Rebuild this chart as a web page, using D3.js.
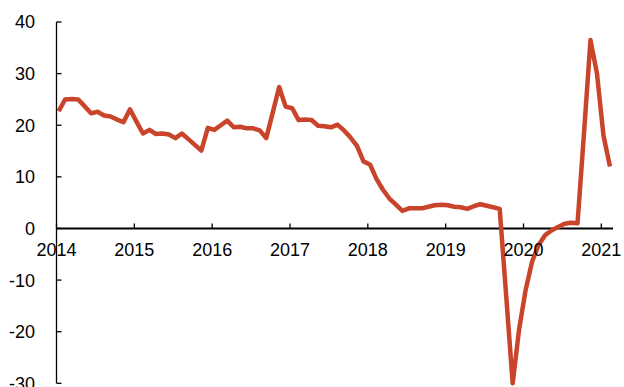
<!DOCTYPE html>
<html>
<head>
<meta charset="utf-8">
<script src="https://cdn.jsdelivr.net/npm/d3@7"></script>
<style>
  html, body { margin: 0; padding: 0; background: #fff; }
  svg { display: block; }
  text { font-family: "Liberation Sans", Arial, sans-serif; fill: #000; }
</style>
</head>
<body>
<svg id="chart" width="624" height="387"></svg>
<script>
// Monthly series, starting January 2014 (index 0) through February 2021
const startYear = 2014;
const values = [
  22.7, 25.0, 25.1, 25.0, 23.7, 22.3, 22.6, 21.9, 21.7, 21.1, 20.6, 23.1,
  20.7, 18.4, 19.1, 18.3, 18.4, 18.2, 17.5, 18.4, 17.3, 16.2, 15.1, 19.5,
  19.1, 20.0, 20.9, 19.6, 19.7, 19.4, 19.4, 19.0, 17.5, 22.4, 27.4, 23.6,
  23.3, 21.0, 21.1, 21.0, 19.9, 19.8, 19.6, 20.1, 19.0, 17.6, 16.0, 13.0,
  12.4, 9.6, 7.5, 5.8, 4.6, 3.4, 3.9, 3.9, 3.9, 4.2, 4.5, 4.6,
  4.5, 4.2, 4.1, 3.8, 4.3, 4.7, 4.4, 4.1, 3.8, -13.0, -30.0, -19.5,
  -11.9, -6.4, -3.2, -1.3, -0.4, 0.3, 0.9, 1.1, 1.0, 18.5, 36.5, 30.0,
  18.0, 12.0
];
const yearTicks = [2014, 2015, 2016, 2017, 2018, 2019, 2020, 2021];
const yTicks = [-30, -20, -10, 0, 10, 20, 30, 40];

const svg = d3.select("#chart");

const x = d3.scaleLinear().domain([2014, 2021.15]).range([56.5, 613]);
const y = d3.scaleLinear().domain([-30, 40]).range([383.3, 22]);

const points = values.map((v, i) => ({ t: startYear + (i + 0.33) / 12, v }));

// Y axis
const yAxis = svg.append("g").attr("transform", `translate(${x(2014)},0)`);
yAxis.append("line")
  .attr("x1", 0).attr("x2", 0)
  .attr("y1", y(40)).attr("y2", y(-30))
  .attr("stroke", "#000").attr("stroke-width", 1.3);
yAxis.selectAll("line.tick").data(yTicks).enter().append("line")
  .attr("class", "tick")
  .attr("x1", 0).attr("x2", 5)
  .attr("y1", d => y(d)).attr("y2", d => y(d))
  .attr("stroke", "#000").attr("stroke-width", 1.3);
svg.append("g").selectAll("text").data(yTicks).enter().append("text")
  .attr("x", 35).attr("y", d => y(d))
  .attr("dy", "0.36em")
  .attr("text-anchor", "end")
  .attr("font-size", 18)
  .text(d => d);

// X axis at zero
const xAxis = svg.append("g").attr("transform", `translate(0,${y(0)})`);
xAxis.append("line")
  .attr("x1", x(2014)).attr("x2", 613)
  .attr("y1", 0).attr("y2", 0)
  .attr("stroke", "#000").attr("stroke-width", 2);
xAxis.selectAll("line.tick").data(yearTicks).enter().append("line")
  .attr("class", "tick")
  .attr("x1", d => x(d)).attr("x2", d => x(d))
  .attr("y1", 0).attr("y2", -5)
  .attr("stroke", "#000").attr("stroke-width", 1.3);

// Line
const line = d3.line().x(d => x(d.t)).y(d => y(d.v));
svg.append("path")
  .datum(points)
  .attr("d", line)
  .attr("fill", "none")
  .attr("stroke", "#C9442A")
  .attr("stroke-width", 4.5)
  .attr("stroke-linejoin", "round")
  .attr("stroke-linecap", "butt");

// Year labels (drawn over the line/axis like the reference)
svg.append("g").selectAll("text").data(yearTicks).enter().append("text")
  .attr("x", d => x(d)).attr("y", y(0) + 27.5)
  .attr("text-anchor", "middle")
  .attr("font-size", 18)
  .text(d => d);
</script>
</body>
</html>
